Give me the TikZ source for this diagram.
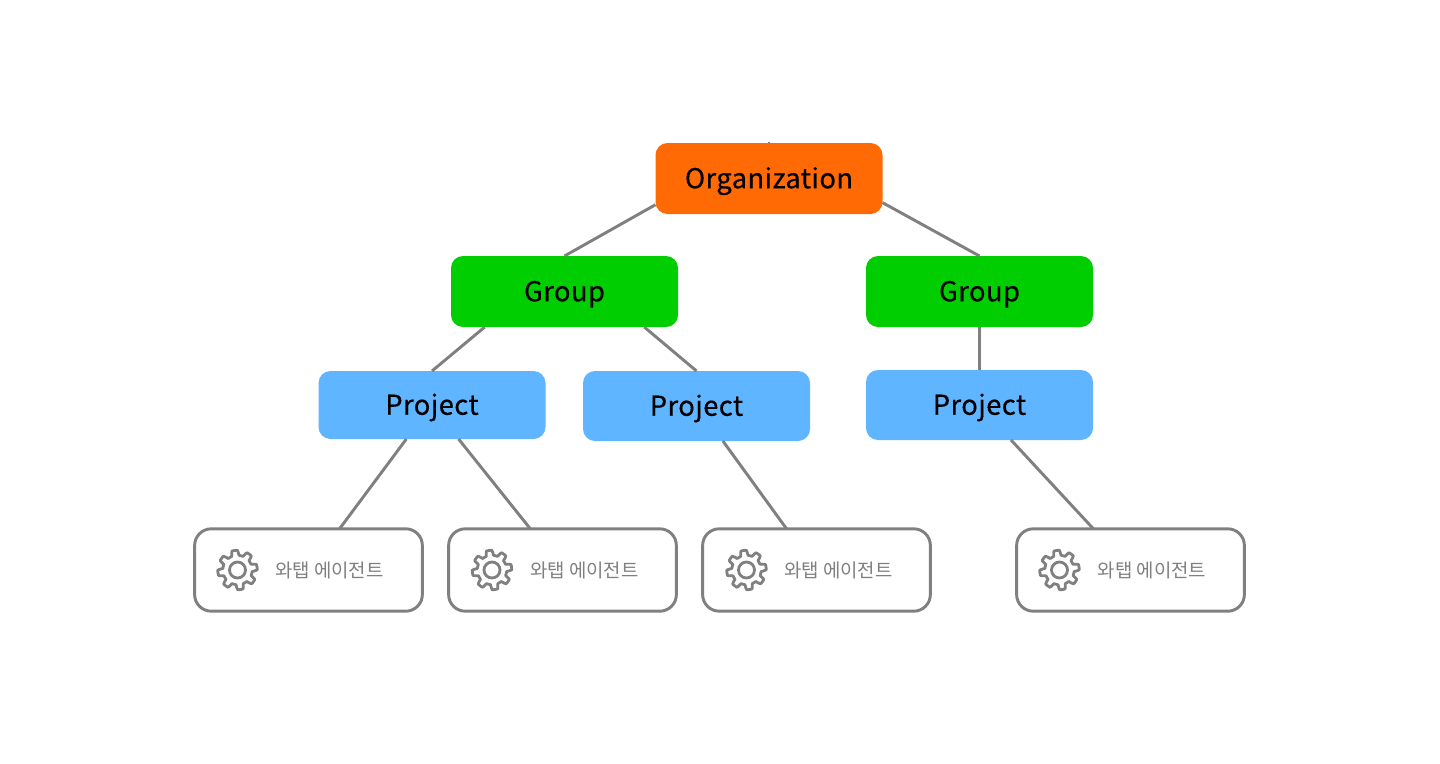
\documentclass[tikz,border=0pt]{standalone}
\usepackage{fontspec}
\setmainfont{Noto Sans CJK KR}
\newfontfamily\lblfam{Noto Sans CJK KR}[FakeBold=0.45,LetterSpace=1.6]
\newcommand{\lblfont}{\lblfam\fontsize{20.5pt}{24pt}\selectfont}
\newcommand{\agtfont}{\fontsize{14.15pt}{17pt}\selectfont}
\newcommand{\lbl}[1]{\raisebox{-7.3pt}[0pt][0pt]{#1}}
\definecolor{orgc}{HTML}{FF6A05}
\definecolor{grpc}{HTML}{00CE00}
\definecolor{prjc}{HTML}{5FB5FF}
\definecolor{linec}{HTML}{808080}
\tikzset{
  x=0.75pt,y=-0.75pt,
  box/.style={rectangle,rounded corners=9pt,inner sep=0pt,outer sep=0pt,text=black,font=\lblfont},
  orgbox/.style={box,fill=orgc,minimum width=170.25pt,minimum height=53.25pt},
  grpbox/.style={box,fill=grpc,minimum width=170.25pt,minimum height=53.25pt},
  prjbox/.style={box,fill=prjc,minimum width=170.25pt,minimum height=52.5pt},
  agtbox/.style={rectangle,rounded corners=12.5pt,draw=linec,line width=2.2pt,fill=white,inner sep=0pt,outer sep=0pt,minimum width=170.8pt,minimum height=61.8pt},
  agtlabel/.style={inner sep=0pt,text=linec,font=\agtfont},
  conn/.style={draw=linec,line width=2.2pt},
  gearline/.style={draw=linec,line width=2.1pt,line join=round},
}
\newcommand{\gearat}[1]{%
  \draw[gearline] (#1) circle[radius=6pt];
  \draw[gearline,shift={(#1)}] plot[domain=0:360,samples=289] (\x:{(12.9+1.9*max(-1,min(1,2.2*sin(8*\x+22.5))))*1pt}) -- cycle;
}
\begin{document}
\begin{tikzpicture}
\useasboundingbox (0,0) rectangle (1440,764);
\fill[white] (0,0) rectangle (1440,764);
\node[orgbox] (org) at (769,178.5) {\lbl{Organization}};
\node[grpbox] (g1) at (564.5,291.5) {\lbl{Group}};
\node[grpbox] (g2) at (979.5,291.5) {\lbl{Group}};
\node[prjbox,minimum height=51pt] (p1) at (432,405) {\lbl{Project}};
\node[prjbox] (p2) at (696.5,406) {\lbl{Project}};
\node[prjbox] (p3) at (979.5,405) {\lbl{Project}};
\node[agtbox] (a1) at (308.5,570) {};
\node[agtbox] (a2) at (562.5,570) {};
\node[agtbox] (a3) at (816.5,570) {};
\node[agtbox] (a4) at (1130.5,570) {};
% connectors
\draw[conn] (org.193.7) -- (g1.north);
\draw[conn] (org.-12.2) -- (g2.north);
\draw[conn] (g1.204) -- (p1.north);
\draw[conn] (g1.336) -- (p2.north);
\draw[conn] (g2.south) -- (p3.north);
\draw[conn] (p1.233.7) -- (a1.53.1);
\draw[conn] (p1.308.5) -- (a2.128.6);
\draw[conn] (p2.307.1) -- (a3.126);
\draw[conn] (p3.312.4) -- (a4.132.5);
\coordinate (stub) at (769,141.5);
\draw[draw=linec,line width=2.2pt] (org.north) -- (stub);
% agent contents
\node[agtlabel,anchor=west] (t1) at (275,570.5) {와탭 에이전트};
\node[agtlabel,anchor=west] (t2) at (530,570.5) {와탭 에이전트};
\node[agtlabel,anchor=west] (t3) at (784,570.5) {와탭 에이전트};
\node[agtlabel,anchor=west] (t4) at (1097.5,570.5) {와탭 에이전트};
\gearat{237.5,570}
\gearat{492,570}
\gearat{746.5,570}
\gearat{1059.5,570}
\end{tikzpicture}
\end{document}
